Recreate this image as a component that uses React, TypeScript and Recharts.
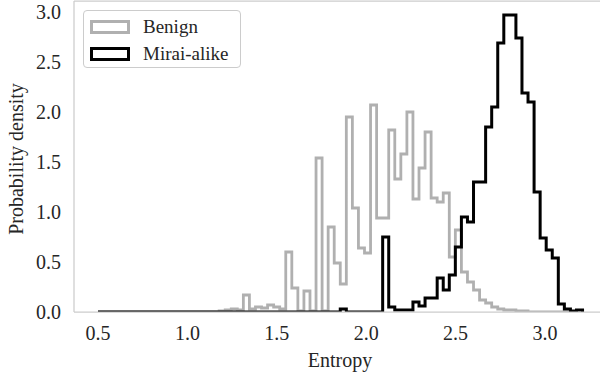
import { Legend, Line, LineChart, ReferenceLine, XAxis, YAxis } from "recharts";

// 80 shared bins from 0.5 to 3.21
const BIN_START = 0.5;
const BIN_WIDTH = 0.033875;

const benignDensity = [
  0, 0, 0, 0, 0, 0, 0, 0, 0, 0,
  0, 0, 0, 0, 0, 0, 0, 0, 0, 0,
  0.01, 0.02, 0.03, 0.02, 0.17, 0.03, 0.05, 0.04, 0.07, 0.05,
  0.03, 0.6, 0.24, 0.01, 0.21, 0.01, 1.54, 0.01, 0.85, 0.49,
  0.28, 1.95, 1.04, 0.64, 0.59, 2.07, 0.94, 0.94, 1.82, 1.33,
  1.58, 2.0, 1.13, 1.44, 1.8, 1.14, 1.1, 1.19, 0.55, 0.82,
  0.4, 0.3, 0.22, 0.12, 0.09, 0.05, 0.03, 0.02, 0.02, 0.01,
  0.01, 0, 0, 0, 0, 0, 0, 0, 0, 0,
];

const miraiDensity = [
  0, 0, 0, 0, 0, 0, 0, 0, 0, 0,
  0, 0, 0, 0, 0, 0, 0, 0, 0, 0,
  0, 0, 0, 0, 0, 0, 0, 0, 0, 0,
  0, 0, 0, 0, 0, 0, 0, 0, 0, 0,
  0.03, 0, 0, 0, 0, 0, 0, 0.75, 0.05, 0.02,
  0.02, 0.02, 0.1, 0.06, 0.14, 0.14, 0.34, 0.22, 0.37, 0.65,
  0.95, 0.9, 1.3, 1.3, 1.85, 2.05, 2.69, 2.97, 2.97, 2.74,
  2.19, 2.1, 1.2, 0.74, 0.62, 0.54, 0.08, 0.03, 0.01, 0.02,
];

const xTicks = [0.5, 1.0, 1.5, 2.0, 2.5, 3.0];
const yTicks = [0, 0.5, 1.0, 1.5, 2.0, 2.5, 3.0];

const X_DOMAIN: [number, number] = [0.3658, 3.3468];
const Y_MAX = 3.11;

const FONT = "Liberation Serif, DejaVu Serif, Noto Serif, Tinos, FreeSerif, Times New Roman, serif";
const FS = 20;
const TEXT = "#262626";
const SPINE = "#cccccc";
const GRAY = "#b0b0b0";

// outline of a step histogram
function toSteps(values: number[]) {
  const pts = [{ x: BIN_START, y: 0 }];
  values.forEach((v, i) => pts.push({ x: BIN_START + i * BIN_WIDTH, y: v }));
  pts.push({ x: BIN_START + values.length * BIN_WIDTH, y: 0 });
  return pts;
}

const benignSteps = toSteps(benignDensity);
const miraiSteps = toSteps(miraiDensity);

function LegendBox({ payload }: any) {
  return (
    <div
      style={{
        boxSizing: "border-box",
        width: 158,
        height: 58,
        border: `1px solid ${SPINE}`,
        borderRadius: 4,
        background: "#fff",
        padding: "2px 0 0 6px",
        fontFamily: FONT,
        fontSize: 19,
        color: TEXT,
      }}
    >
      {(payload || []).map((p: any) => (
        <div key={p.value} style={{ display: "flex", alignItems: "center", height: 27 }}>
          <div
            style={{
              boxSizing: "border-box",
              width: 40,
              height: 14,
              border: `3px solid ${p.color}`,
              background: "#fff",
              marginRight: 13,
            }}
          />
          <span style={{ lineHeight: "27px", whiteSpace: "nowrap" }}>{p.value}</span>
        </div>
      ))}
    </div>
  );
}

export default function App() {
  return (
    <div style={{ position: "absolute", left: 0, top: 0, width: 600, height: 373, overflow: "hidden", background: "#fff", fontFamily: FONT }}>
      <LineChart width={620} height={373} margin={{ top: 1, right: 13, bottom: 0, left: 0 }} style={{ fontFamily: FONT }}>
        <XAxis
          dataKey="x"
          type="number"
          domain={X_DOMAIN}
          allowDataOverflow
          ticks={xTicks}
          tickFormatter={(v: number) => v.toFixed(1)}
          tickLine={false}
          tickSize={0}
          tickMargin={14}
          height={61}
          axisLine={{ stroke: SPINE, strokeWidth: 1.25 }}
          tick={{ fill: TEXT, fontSize: FS, fontFamily: FONT }}
          label={{
            content: () => (
              <text x={340} y={367} textAnchor="middle" fill={TEXT} fontSize={FS} style={{ fontFamily: FONT }}>
                Entropy
              </text>
            ),
          }}
        />
        <YAxis
          type="number"
          domain={[0, Y_MAX]}
          allowDataOverflow
          ticks={yTicks}
          tickFormatter={(v: number) => v.toFixed(1)}
          tickLine={false}
          tickSize={0}
          tickMargin={13}
          width={74}
          axisLine={{ stroke: SPINE, strokeWidth: 1.25 }}
          tick={{ fill: TEXT, fontSize: FS, fontFamily: FONT }}
          label={{
            content: () => (
              <text
                x={16}
                y={159}
                transform="rotate(-90 16 159)"
                textAnchor="middle"
                dominantBaseline="central"
                fill={TEXT}
                fontSize={FS}
                style={{ fontFamily: FONT }}
              >
                Probability density
              </text>
            ),
          }}
        />
        <ReferenceLine y={Y_MAX} stroke={SPINE} strokeWidth={1.25} ifOverflow="visible" />
        <Line
          data={benignSteps}
          dataKey="y"
          name="Benign"
          type="stepAfter"
          stroke={GRAY}
          strokeWidth={2.8}
          strokeLinejoin="miter"
          dot={false}
          activeDot={false}
          isAnimationActive={false}
        />
        <Line
          data={miraiSteps}
          dataKey="y"
          name="Mirai-alike"
          type="stepAfter"
          stroke="#000000"
          strokeWidth={3}
          strokeLinejoin="miter"
          dot={false}
          activeDot={false}
          isAnimationActive={false}
        />
        <Legend
          layout="vertical"
          align="center"
          verticalAlign="middle"
          content={LegendBox}
          wrapperStyle={{ position: "absolute", left: 83, top: 10, width: "auto", height: "auto" }}
        />
      </LineChart>
    </div>
  );
}
